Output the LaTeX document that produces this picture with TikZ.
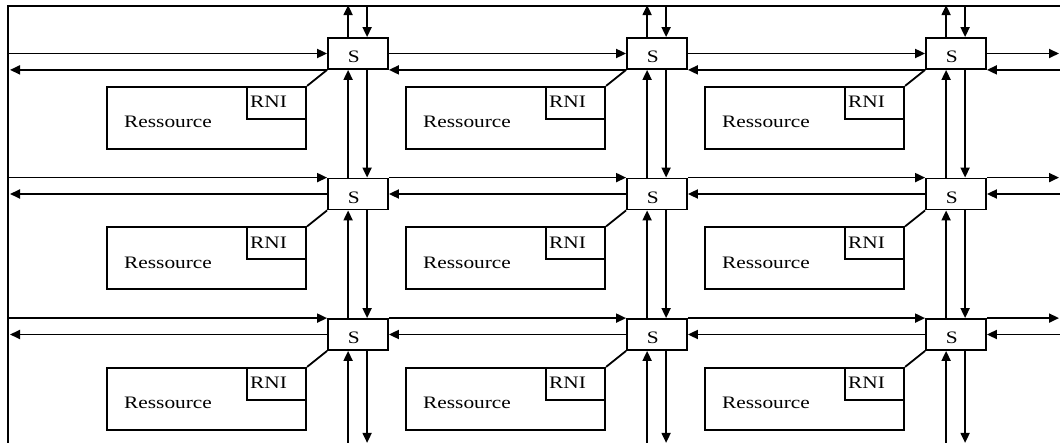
\documentclass[tikz,border=0pt]{standalone}
\usepackage{fontspec}
\setmainfont[FakeStretch=1.22]{Liberation Serif}
\usetikzlibrary{arrows.meta}
\begin{document}
\begin{tikzpicture}[x=1pt,y=-1pt,
  line width=1.8pt,
  >={Triangle[length=10pt,width=9pt]},
  switchbox/.style={draw, rectangle, minimum width=60pt, minimum height=31pt, inner sep=0pt},
  resbox/.style={draw, rectangle, minimum width=199pt, minimum height=62pt, inner sep=0pt, anchor=north east},
  rnibox/.style={draw, rectangle, minimum width=59pt, minimum height=32pt, inner sep=0pt, anchor=north east},
  lbl/.style={font=\fontsize{17.5}{19}\selectfont, inner sep=0pt, anchor=base west},
  link/.style={->},
]
\useasboundingbox (0,0) rectangle (1060,443);

% outer frame: left and top edges
\coordinate (tl) at (8,6);
\coordinate (tlA) at (10,6);
\coordinate (bl) at (8,443);
\coordinate (tr) at (1060,6);
\coordinate (trA) at (1059,6);
\draw (bl) -- (tl) -- (tr);

% switches, resources and their network interfaces
\foreach \r/\yc in {1/53.5, 2/194, 3/334.5} {
  \foreach \c in {1,2,3} {
    \pgfmathsetmacro\xc{358+(\c-1)*299}
    \node[switchbox] (s\r\c) at (\xc,\yc) {};
    \node[lbl] (sl\r\c) at ([xshift=-11pt,yshift=-9.5pt]s\r\c.center) {S};
    \node[resbox] (r\r\c) at ([xshift=-20pt,yshift=-16pt]s\r\c.south west) {};
    \node[rnibox] (n\r\c) at (r\r\c.north east) {};
    \draw (s\r\c.south west) -- (n\r\c.north east);
    \node[lbl] (nl\r\c) at ([xshift=3pt,yshift=-22pt]n\r\c.north west) {RNI};
    \node[lbl] (rl\r\c) at ([xshift=17pt,yshift=-42pt]r\r\c.north west) {Ressource};
  }
}

% vertical links
\foreach \c in {1,2,3} {
  \draw[link] ([xshift=21pt]s1\c.north west) -- ++(0,-32);
  \draw[link] ([xshift=40pt]s1\c.north west) ++(0,-32) -- ([xshift=40pt]s1\c.north west);
  \foreach \a/\b in {1/2,2/3} {
    \draw[link] ([xshift=21pt]s\b\c.north west) -- ([xshift=21pt]s\a\c.south west);
    \draw[link] ([xshift=40pt]s\a\c.south west) -- ([xshift=40pt]s\b\c.north west);
  }
  \draw[link] ([xshift=21pt]s3\c.south west) ++(0,93) -- ([xshift=21pt]s3\c.south west);
  \draw[link] ([xshift=40pt]s3\c.south west) -- ++(0,92);
}

% horizontal links, first row
\draw[link] (s11.west -| tl) -- (s11.west);
\draw[link] (s11.south west) -- (s11.south west -| tlA);
\foreach \a/\b in {1/2,2/3} {
  \draw[link] (s1\a.east) -- (s1\b.west);
  \draw[link] (s1\b.south west) -- (s1\a.south east);
}
\draw[link] (s13.east) -- (s13.east -| trA);
\draw[link] (s13.south east -| tr) -- (s13.south east);

% horizontal links, second and third rows
\foreach \r in {2,3} {
  \draw[link] (s\r1.north west -| tl) -- (s\r1.north west);
  \draw[link] (s\r1.west) -- (s\r1.west -| tlA);
  \foreach \a/\b in {1/2,2/3} {
    \draw[link] (s\r\a.north east) -- (s\r\b.north west);
    \draw[link] (s\r\b.west) -- (s\r\a.east);
  }
  \draw[link] (s\r3.north east) -- (s\r3.north east -| trA);
  \draw[link] (s\r3.east -| tr) -- (s\r3.east);
}
\end{tikzpicture}
\end{document}
